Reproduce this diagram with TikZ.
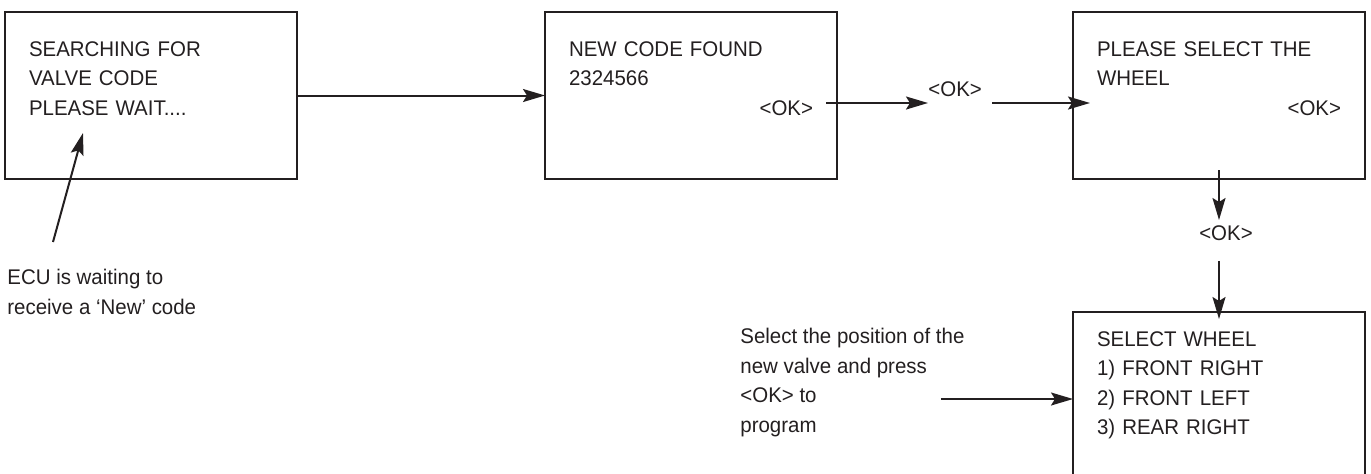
\documentclass[tikz,border=0pt]{standalone}
\usepackage{fontspec}
\setmainfont{Liberation Sans}[FakeStretch=0.965]
\usetikzlibrary{positioning, arrows.meta}
\definecolor{ink}{RGB}{35,31,32}

\begin{document}
\begin{tikzpicture}[
    font=\fontsize{10.6pt}{14.8pt}\selectfont, color=ink,
    screen/.style={draw, line width=1.15pt, outer sep=0pt, inner xsep=12pt, inner ysep=0pt,
        text width=122pt, text height=22pt, text depth=61.5pt, align=left},
    note/.style={inner sep=0pt, align=left},
    arr/.style={-{Stealth[length=11pt, width=6.5pt, inset=2pt]}, line width=1pt}
]
    \useasboundingbox (0,0) rectangle (685.5pt,-236.5pt);

    \node[screen, anchor=north west] (search) at (2.5pt,-6pt) {SEARCHING FOR\\VALVE CODE\\PLEASE WAIT....};
    \node[screen, right=124pt of search] (found) {NEW CODE FOUND\\2324566\\\hspace*{\fill}<OK>};
    \node[screen, right=118pt of found] (prompt) {PLEASE SELECT THE\\WHEEL\\\hspace*{\fill}<OK>};
    \node[screen, text height=17pt, text depth=80pt, below=66.5pt of prompt] (select) {SELECT WHEEL\\1) FRONT RIGHT\\2) FRONT LEFT\\3) REAR RIGHT};

    \node[inner sep=0pt, right=45.5pt of found, yshift=3.25pt] (okA) {<OK>};
    \node[inner sep=0pt, below=23pt of prompt, xshift=3.5pt] (okB) {<OK>};

    \node[note, anchor=north west] (ecu) at ([shift={(1pt,-45pt)}]search.south west) {ECU is waiting to\\receive a ‘New’ code};
    \node[note, anchor=north west] (hint) at (370pt,-164pt) {Select the position of the\\new valve and press\\<OK> to\\program};

    % ends
    \coordinate (foundout) at ([xshift=-5.5pt, yshift=-3.75pt]found.east);
    \coordinate (promptin) at ([xshift=8.5pt]prompt.west |- foundout);
    \coordinate (waitpt) at ([shift={(39pt,23pt)}]search.south west);
    \coordinate (selin) at ([yshift=-43.5pt]select.north west);

    \draw[arr] (search) -- (found);
    \draw[arr] (foundout) -- (foundout -| okA.west);
    \draw[arr] ([xshift=5pt]okA.east |- foundout) -- (promptin);
    \draw[arr] ([yshift=4.5pt]prompt.south) -- ([yshift=2.5pt]okB.north -| prompt.south);
    \draw[arr] ([yshift=-10pt]okB.south -| prompt.south) -- ([yshift=-3.5pt]select.north);
    \draw[arr] ([shift={(23pt,13.5pt)}]ecu.north west) -- (waitpt);
    \draw[arr] (hint.east |- selin) ++(-12pt,0) -- (selin);
\end{tikzpicture}
\end{document}
